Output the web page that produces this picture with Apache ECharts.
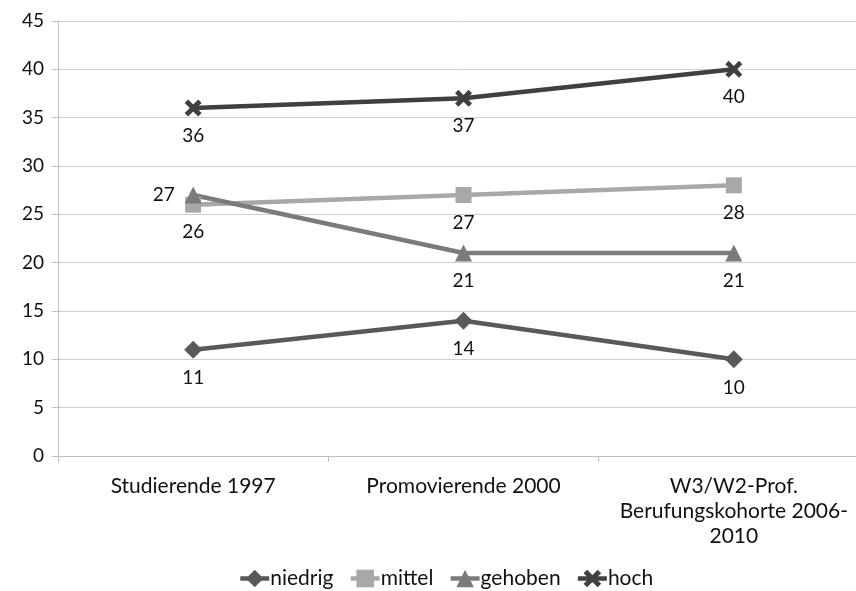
<!DOCTYPE html>
<html>
<head>
<meta charset="utf-8">
<script src="https://cdn.jsdelivr.net/npm/echarts@6/dist/echarts.min.js"></script>
<style>
  html, body { margin: 0; padding: 0; background: #fff; }
  #chart { width: 856px; height: 591px; }
</style>
</head>
<body>
<div id="chart"></div>
<script>
// Categories along the x axis
const categories = ['Studierende 1997', 'Promovierende 2000', 'W3/W2-Prof.\nBerufungskohorte 2006-\n2010'];

// Values per social-origin group (percent)
const niedrig = [11, 14, 10];
const mittel = [26, 27, 28];
const gehoben = [27, 21, 21];
const hoch = [36, 37, 40];

// Value axis ticks
const yMin = 0;
const yMax = 45;
const yStep = 5;

const FONT = 'Lato';
const TEXT = '#111111';
const crossPath = 'path://M0,2 L2,0 L5,3 L8,0 L10,2 L7,5 L10,8 L8,10 L5,7 L2,10 L0,8 L3,5 Z';

function makeSeries(name, data, color, symbol, size, labelPositions) {
  return {
    name: name,
    type: 'line',
    data: data.map((v, i) => ({
      value: v,
      label: { position: labelPositions ? labelPositions[i] : 'bottom' }
    })),
    symbol: symbol,
    symbolSize: size,
    lineStyle: { color: color, width: 4.5 },
    itemStyle: { color: color, borderColor: color, borderWidth: 0 },
    label: {
      show: true,
      position: 'bottom',
      distance: 10,
      fontFamily: FONT,
      fontSize: 19,
      color: TEXT
    },
    emphasis: { disabled: true },
    animation: false
  };
}

const chart = echarts.init(document.getElementById('chart'), null, { renderer: 'canvas' });
chart.setOption({
  backgroundColor: '#ffffff',
  animation: false,
  // plot area runs a little past the right edge of the canvas
  grid: { left: 58, top: 21, width: 811, bottom: 135, containLabel: false, outerBoundsMode: 'none' },
  legend: {
    top: 563,
    left: 233,
    itemWidth: 29,
    itemHeight: 22,
    itemGap: 15,
    lineStyle: { width: 4.5 },
    textStyle: { fontFamily: FONT, fontSize: 21, color: TEXT, padding: [0, 0, 0, -4] },
    data: ['niedrig', 'mittel', 'gehoben', 'hoch']
  },
  xAxis: {
    type: 'category',
    data: categories,
    boundaryGap: true,
    axisLine: { show: true, lineStyle: { color: '#bfbfbf', width: 1 } },
    axisTick: { show: true, length: 6, lineStyle: { color: '#bfbfbf' } },
    axisLabel: {
      fontFamily: FONT,
      fontSize: 21,
      color: TEXT,
      margin: 18,
      lineHeight: 25,
      interval: 0
    }
  },
  yAxis: {
    type: 'value',
    min: yMin,
    max: yMax,
    interval: yStep,
    axisLine: { show: true, lineStyle: { color: '#bfbfbf', width: 1 } },
    axisTick: { show: true, length: 6, lineStyle: { color: '#bfbfbf' } },
    splitLine: { show: true, lineStyle: { color: '#d0d0d0', width: 1 } },
    axisLabel: {
      fontFamily: FONT,
      fontSize: 19,
      color: TEXT,
      margin: 14
    }
  },
  series: [
    makeSeries('niedrig', niedrig, '#595959', 'diamond', 18),
    makeSeries('mittel', mittel, '#a8a8a8', 'rect', 16),
    makeSeries('gehoben', gehoben, '#7b7b7b', 'triangle', 17, ['left', 'bottom', 'bottom']),
    makeSeries('hoch', hoch, '#404040', crossPath, 17)
  ]
});
</script>
</body>
</html>
